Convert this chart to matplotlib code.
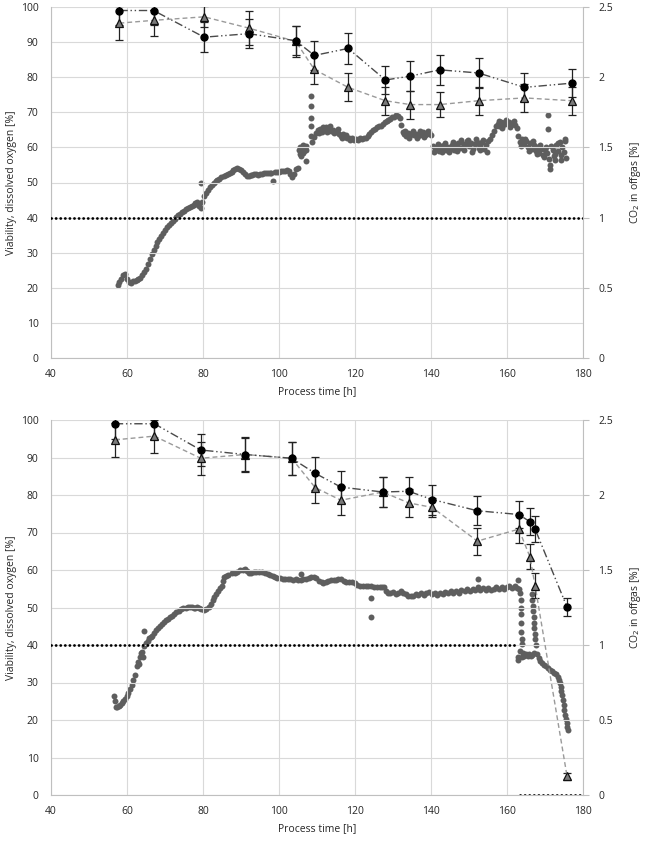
import matplotlib
matplotlib.use('Agg')
import matplotlib.pyplot as plt
from matplotlib.ticker import MultipleLocator, FuncFormatter
import numpy as np

plt.rcParams['font.family'] = ['Open Sans', 'DejaVu Sans']

# ---------------- data: top run ----------------
top_t = [58, 67, 80.3, 92, 104.4, 109.3, 118.2, 128, 134.5, 142.3, 152.5, 164.6, 177]
top_circ = [99, 99, 91.4, 92.4, 90.4, 86.2, 88.2, 79.2, 80.3, 82.1, 81.2, 77.1, 78.3]
top_circ_err = [4.0, 4.0, 4.2, 4.2, 4.2, 4.2, 4.4, 4.0, 4.2, 4.2, 4.2, 4.0, 4.0]
top_tri = [95.4, 96.2, 97.2, 94.0, 90.2, 82.2, 77.1, 73.3, 72.2, 72.2, 73.3, 74.1, 73.3]
top_tri_err = [4.8, 4.6, 3.0, 4.8, 4.4, 4.0, 4.0, 4.0, 4.0, 3.6, 4.0, 4.0, 4.0]
top_do_t = [40, 180]
top_do = [40, 40]

top_co2_t = [57.5, 58, 58.5, 59, 59.5, 60, 60.5, 61, 61.5, 62, 62.5, 63, 63.5, 64, 64.5, 65, 65.5, 66, 66.5, 67,
             67.5, 68, 68.5, 69, 69.5, 70, 70.5, 71, 71.5, 72, 72.5, 73, 73.5, 74, 74.5, 75, 75.5, 76, 76.5, 77,
             77.5, 78, 78.5, 79, 79.4, 79.5, 79.8, 80.3, 80.8, 81.3, 81.8, 82.3, 82.8, 83.3, 83.8, 84.3, 84.8, 85.5, 86, 86.5,
             87, 87.5, 88, 88.5, 89, 89.5, 90, 90.5, 91, 91.5, 92, 92.5, 93, 93.5, 94, 94.5, 95, 95.5, 96, 96.5,
             97, 97.5, 98, 98.5, 99, 99.5, 100, 100.5, 101, 101.5, 102, 102.5, 103, 103.5, 104, 104.5, 105,
             105.3, 105.5, 105.6, 105.8, 106.0, 106.2, 106.4, 106.6, 107.0, 107.1, 107.2,
             108.4, 108.4, 108.4, 108.4, 108.4,
             108.8, 109.3, 109.8, 110.3, 110.8, 111.3, 111.8, 112.3, 112.8, 113.3, 113.8, 114.3, 114.8, 115.3, 115.8,
             116.3, 116.8, 117.3, 117.8, 118.3, 118.8, 119.3, 119.8, 120.3, 120.8, 121.3, 121.8, 122.3, 122.8, 123.3,
             123.8, 124.3, 124.8, 125.3, 125.8, 126.3, 126.8, 127.3, 127.8, 128.3, 128.8, 129.3, 129.8, 130.3, 130.8,
             131.3, 131.8, 132.2, 132.6,
             133.0, 133.5, 134, 134.5, 135, 135.5, 136, 136.5, 137, 137.5, 138, 138.5, 139, 139.5, 140,
             140.5, 141, 141.5, 142, 142.5, 143, 143.5, 144, 144.5, 145, 145.5, 146, 146.5, 147, 147.5, 148, 148.5,
             149, 149.5, 150, 150.5, 151, 151.5, 152, 152.5, 153, 153.5, 154, 154.5, 155, 155.5, 156, 156.5, 157,
             157.5, 158, 158.5, 159, 159.5, 160, 160.5, 161, 161.5, 162, 162.5, 163, 163.5, 164, 164.5, 165, 165.5,
             166, 166.5, 167, 167.5, 168, 168.5, 169, 169.5, 170, 170.5, 171, 171.2, 171.5, 172, 172.5, 173, 173.5,
             174, 174.5, 175, 175.3, 175.5,
             170.9, 170.9, 171.2, 172.5, 174.3,
             110.5, 111.5, 112.5, 113.5, 114.5, 115.5, 116.5, 117.5,
             133.2, 134.2, 135.2, 136.2, 137.2, 138.2, 139.2,
             140.8, 141.8, 142.8, 143.8, 144.8, 145.8, 146.8, 147.8, 148.8, 149.8, 150.8, 151.8, 152.8, 153.8, 154.8,
             157.8, 158.8, 159.8, 160.8, 161.8,
             163.8, 164.8, 165.8, 166.8, 167.8, 168.8, 169.8, 170.3, 172.3, 173.3, 174.3, 175.2]
top_co2 = [0.520, 0.538, 0.563, 0.588, 0.595, 0.563, 0.538, 0.533, 0.545, 0.550, 0.558, 0.560, 0.570, 0.588, 0.613, 0.635, 0.670, 0.708, 0.740, 0.770,
           0.800, 0.825, 0.850, 0.870, 0.890, 0.910, 0.930, 0.948, 0.963, 0.978, 0.990, 1.003, 1.015, 1.028, 1.038, 1.050, 1.058, 1.068, 1.075, 1.083,
           1.090, 1.103, 1.108, 1.080, 1.065, 1.250, 1.113, 1.155, 1.175, 1.200, 1.220, 1.235, 1.248, 1.260, 1.270, 1.278, 1.288, 1.295, 1.303, 1.313,
           1.320, 1.328, 1.338, 1.345, 1.350, 1.345, 1.340, 1.325, 1.308, 1.298, 1.298, 1.300, 1.305, 1.310, 1.310, 1.305, 1.308, 1.313, 1.315, 1.318,
           1.320, 1.315, 1.318, 1.260, 1.325, 1.323, 1.328, 1.333, 1.330, 1.335, 1.340, 1.330, 1.308, 1.290, 1.313, 1.343, 1.350,
           1.483, 1.450, 1.500, 1.440, 1.495, 1.458, 1.515, 1.475, 1.513, 1.405, 1.485,
           1.865, 1.793, 1.710, 1.650, 1.580,
           1.538, 1.575, 1.600, 1.625, 1.630, 1.613, 1.633, 1.645, 1.620, 1.630, 1.615, 1.625, 1.608, 1.615, 1.595,
           1.583, 1.595, 1.575, 1.565, 1.570, 1.555, 1.565, 1.550, 1.560, 1.553, 1.568, 1.558, 1.570, 1.565, 1.578,
           1.595, 1.608, 1.623, 1.630, 1.645, 1.655, 1.650, 1.665, 1.680, 1.688, 1.698, 1.705, 1.715, 1.720, 1.733,
           1.725, 1.710, 1.663, 1.613,
           1.595, 1.583, 1.600, 1.588, 1.605, 1.585, 1.598, 1.580, 1.600, 1.590, 1.608, 1.585, 1.595, 1.610, 1.590,
           1.513, 1.485, 1.505, 1.475, 1.508, 1.488, 1.515, 1.480, 1.500, 1.490, 1.520, 1.483, 1.513, 1.530, 1.495, 1.538, 1.505,
           1.523, 1.545, 1.510, 1.533, 1.490, 1.523, 1.540, 1.498, 1.518, 1.535, 1.488, 1.515, 1.548, 1.563, 1.588, 1.620, 1.650,
           1.670, 1.655, 1.678, 1.663, 1.680, 1.668, 1.683, 1.663, 1.675, 1.658, 1.638, 1.580, 1.538, 1.560, 1.525, 1.545, 1.505,
           1.533, 1.488, 1.515, 1.473, 1.503, 1.460, 1.490, 1.445, 1.480, 1.463, 1.420, 1.375, 1.513, 1.485, 1.455, 1.518, 1.475,
           1.538, 1.500, 1.470, 1.545, 1.425,
           1.730, 1.628, 1.345, 1.408, 1.413,
           1.600, 1.645, 1.610, 1.650, 1.600, 1.630, 1.570, 1.590,
           1.620, 1.565, 1.620, 1.570, 1.618, 1.572, 1.620,
           1.470, 1.525, 1.465, 1.528, 1.470, 1.535, 1.475, 1.550, 1.480, 1.555, 1.470, 1.558, 1.478, 1.550, 1.470,
           1.690, 1.640, 1.695, 1.645, 1.690,
           1.510, 1.560, 1.475, 1.545, 1.450, 1.515, 1.430, 1.500, 1.440, 1.530, 1.445, 1.560]

# ---------------- data: bottom run ----------------
bot_t = [56.8, 67.2, 79.4, 91.1, 103.3, 109.5, 116.3, 127.3, 134.1, 140.3, 152.2, 163.1, 166.0, 167.4, 175.8]
bot_circ = [99, 99, 92, 90.8, 89.8, 85.8, 82.1, 80.8, 81, 78.8, 75.8, 74.8, 72.9, 70.9, 50.1]
bot_circ_err = [4.0, 4.0, 4.3, 4.4, 4.4, 4.4, 4.2, 4.0, 3.9, 4.0, 3.9, 3.7, 3.6, 3.5, 2.4]
bot_tri = [94.7, 95.7, 89.8, 90.8, 89.8, 82.0, 78.6, 80.8, 77.9, 76.7, 67.7, 70.9, 63.6, 55.8, 5.0]
bot_tri_err = [4.6, 4.4, 4.4, 4.6, 4.4, 4.1, 3.9, 4.0, 3.8, 2.5, 3.6, 3.7, 3.3, 3.3, 1.0]
bot_do_t = [40, 163, 163.2, 163.5, 180]
bot_do = [40, 40, np.nan, 0, 0]

bot_co2_t = [56.6, 56.8, 57.0, 57.4, 57.8, 58.2, 58.6, 59.0, 59.4, 59.9, 60.3, 60.8, 61.2, 61.6, 62.1, 62.5, 62.8, 63.1, 63.3, 63.6,
             63.9, 64.2, 64.5, 64.6, 65.0, 65.4, 65.8, 66.2, 66.7, 67.2, 67.7, 68.2, 68.8, 69.3, 69.8, 70.3, 70.8, 71.3, 71.8, 72.4,
             73.0, 73.6, 74.2, 74.8, 75.4, 76.0, 76.5, 77.0, 77.5, 78.0, 78.5, 79.0, 79.6, 80.3, 80.9, 81.5, 82.0, 82.5, 83.0, 83.5,
             84.0, 84.5, 84.9, 85.2, 85.4, 86.0, 86.7, 87.5, 88.3, 89.0, 89.7, 90.4, 91.0, 91.5, 92.0, 92.6, 93.3, 94.0, 94.7, 95.5,
             96.3, 97.0, 97.7, 98.3, 98.9, 99.6, 100.3, 101.0, 101.6, 102.3, 103.0, 103.7, 104.4, 105.0, 105.7, 105.8, 106.4, 107.1, 107.8, 108.4,
             109.1, 109.8, 110.5, 111.2, 111.6, 112.3, 113.0, 113.7, 114.4, 115.0, 115.6, 116.3, 117.0, 117.7, 118.4, 119.2, 119.9, 120.6, 121.3, 122.0,
             122.8, 123.5, 124.2, 124.3, 124.3, 125.0, 125.8, 126.5, 127.2, 127.7, 128.2, 128.6, 129.3, 130.0, 130.7, 131.4, 132.0, 132.7, 133.4, 134.0,
             134.7, 135.3, 136.0, 136.7, 137.4, 138.1, 138.8, 139.6, 140.3, 141.0, 141.7, 142.4, 143.1, 143.8, 144.5, 145.2, 145.9, 146.6, 147.3, 148.0,
             148.9, 149.6, 150.3, 151.0, 151.6, 152.3, 152.3, 153.0, 153.7, 154.4, 155.1, 155.8, 156.5, 157.2, 157.9, 158.6, 159.2, 159.9, 160.6, 161.3,
             162.0, 162.6, 162.9, 163.2,
             163.5, 163.6, 163.7, 163.7, 163.8, 163.8, 163.9, 163.9, 163.3, 163.0, 162.9, 164.0, 164.3, 164.6, 165.0, 165.4, 165.8, 166.2, 166.6, 167.0,
             166.6, 166.7, 166.8, 166.9, 167.0, 167.1, 167.2, 167.3, 167.4, 167.5,
             167.8, 168.3, 168.8, 169.3, 169.8, 170.3, 170.8, 171.3, 171.8, 172.3, 172.8, 173.3, 173.6, 173.9, 174.1, 174.3, 174.5, 174.7, 174.9, 175.1,
             175.3, 175.5, 175.7, 175.9, 176.0]
bot_co2 = [0.660, 0.625, 0.590, 0.585, 0.595, 0.600, 0.613, 0.628, 0.643, 0.660, 0.678, 0.705, 0.733, 0.765, 0.803, 0.863, 0.888, 0.875, 0.920, 0.945,
           0.955, 0.923, 1.093, 0.993, 1.013, 1.030, 1.045, 1.055, 1.063, 1.080, 1.100, 1.115, 1.130, 1.140, 1.153, 1.165, 1.175, 1.185, 1.195, 1.208,
           1.218, 1.228, 1.238, 1.245, 1.250, 1.253, 1.255, 1.253, 1.250, 1.250, 1.253, 1.250, 1.238, 1.235, 1.240, 1.253, 1.275, 1.300, 1.318, 1.338,
           1.358, 1.378, 1.395, 1.425, 1.455, 1.463, 1.470, 1.478, 1.480, 1.490, 1.498, 1.503, 1.508, 1.495, 1.483, 1.480, 1.488, 1.490, 1.485, 1.490,
           1.483, 1.473, 1.465, 1.458, 1.455, 1.450, 1.445, 1.440, 1.443, 1.443, 1.438, 1.433, 1.440, 1.435, 1.433, 1.475, 1.438, 1.440, 1.450, 1.455,
           1.455, 1.445, 1.425, 1.420, 1.415, 1.423, 1.425, 1.433, 1.435, 1.433, 1.443, 1.438, 1.425, 1.420, 1.420, 1.420, 1.415, 1.398, 1.395, 1.395,
           1.395, 1.395, 1.393, 1.313, 1.188, 1.390, 1.390, 1.388, 1.385, 1.388, 1.363, 1.348, 1.348, 1.353, 1.343, 1.348, 1.358, 1.345, 1.338, 1.330,
           1.328, 1.325, 1.338, 1.335, 1.345, 1.335, 1.348, 1.353, 1.340, 1.348, 1.335, 1.350, 1.343, 1.355, 1.348, 1.360, 1.345, 1.363, 1.348, 1.365,
           1.360, 1.373, 1.358, 1.375, 1.365, 1.385, 1.443, 1.370, 1.380, 1.365, 1.383, 1.370, 1.373, 1.388, 1.373, 1.390, 1.375, 1.385, 1.395, 1.380,
           1.393, 1.383, 1.433, 1.375,
           1.348, 1.300, 1.250, 1.205, 1.150, 1.088, 1.038, 1.008, 0.963, 0.920, 0.900, 0.920, 0.950, 0.930, 0.938, 0.925, 0.940, 0.928, 0.935, 0.945,
           1.338, 1.300, 1.263, 1.225, 1.188, 1.150, 1.113, 1.075, 1.038, 1.000,
           0.938, 0.913, 0.895, 0.880, 0.868, 0.858, 0.845, 0.835, 0.825, 0.815, 0.805, 0.790, 0.770, 0.745, 0.720, 0.695, 0.665, 0.635, 0.600, 0.565,
           0.535, 0.505, 0.480, 0.455, 0.435]

x_ticks = [40, 60, 80, 100, 120, 140, 160, 180]
left_label = 'Viability, dissolved oxygen [%]'
right_label = 'CO$_2$ in offgas [%]'
x_label = 'Process time [h]'

GRID = '#d9d9d9'
AXC = '#bfbfbf'
TXT = '#262626'
FS = 7.5


def panel(ax1, t, circ, circ_err, tri, tri_err, do_t, do, co2_t, co2):
    ax2 = ax1.twinx()
    ax1.set_zorder(ax2.get_zorder() + 1)
    ax1.patch.set_visible(False)

    ax2.plot(co2_t, co2, 'o', ms=4.3, color='#5e5e5e', mec='none', zorder=2)
    ax2.set_ylim(0, 2.5)
    ax2.yaxis.set_major_locator(MultipleLocator(0.5))
    ax2.yaxis.set_major_formatter(FuncFormatter(lambda v, p: '%g' % v))
    ax2.tick_params(axis='y', length=4, width=0.8, color=AXC, labelsize=FS, labelcolor=TXT, pad=7)
    for s in ['top', 'left', 'bottom']:
        ax2.spines[s].set_visible(False)
    ax2.spines['right'].set_color(AXC)
    ax2.spines['right'].set_linewidth(0.8)
    ax2.set_ylabel(right_label, fontsize=FS, color=TXT, labelpad=11)

    ax1.plot(do_t, do, color='black', lw=2.0, linestyle=(0, (0.05, 1.6)),
             dash_capstyle='round', solid_capstyle='round', zorder=3)

    ax1.errorbar(t, tri, yerr=tri_err, fmt='none', ecolor='#222222', elinewidth=0.9,
                 capsize=2.8, capthick=0.9, zorder=4)
    ax1.errorbar(t, circ, yerr=circ_err, fmt='none', ecolor='#222222', elinewidth=0.9,
                 capsize=2.8, capthick=0.9, zorder=4)
    ax1.plot(t, tri, color='#9a9a9a', lw=1.0, linestyle=(0, (3.5, 2.2)), zorder=5)
    ax1.plot(t, circ, color='#4a4a4a', lw=1.0, linestyle=(0, (6, 2, 1, 2, 1, 2)), zorder=5)
    ax1.plot(t, tri, '^', ms=6.2, mfc='#7a7a7a', mec='#111111', mew=0.9, ls='none', zorder=6)
    ax1.plot(t, circ, 'o', ms=5.0, mfc='black', mec='black', ls='none', zorder=6)

    ax1.set_xlim(40, 180)
    ax1.set_ylim(0, 100)
    ax1.set_xticks(x_ticks)
    ax1.yaxis.set_major_locator(MultipleLocator(10))
    ax1.grid(True, color=GRID, lw=0.8)
    ax1.set_axisbelow(True)
    ax1.tick_params(axis='both', length=0, labelsize=FS, labelcolor=TXT)
    ax1.tick_params(axis='x', pad=8)
    ax1.tick_params(axis='y', pad=9)
    for s in ['top', 'right']:
        ax1.spines[s].set_visible(False)
    for s in ['left', 'bottom']:
        ax1.spines[s].set_color(AXC)
        ax1.spines[s].set_linewidth(0.8)
    ax1.set_ylabel(left_label, fontsize=FS, color=TXT, labelpad=3)
    ax1.set_xlabel(x_label, fontsize=FS, color=TXT, labelpad=4)
    return ax2


fig = plt.figure(figsize=(6.5, 8.41), dpi=100)
L = 51 / 650
W = (583 - 51) / 650
ax_top = fig.add_axes([L, 1 - 358 / 841, W, 351 / 841])
ax_bot = fig.add_axes([L, 1 - 795 / 841, W, 375 / 841])

panel(ax_top, top_t, top_circ, top_circ_err, top_tri, top_tri_err, top_do_t, top_do, top_co2_t, top_co2)
panel(ax_bot, bot_t, bot_circ, bot_circ_err, bot_tri, bot_tri_err, bot_do_t, bot_do, bot_co2_t, bot_co2)

fig.savefig('out.png', dpi=100, facecolor='white')
